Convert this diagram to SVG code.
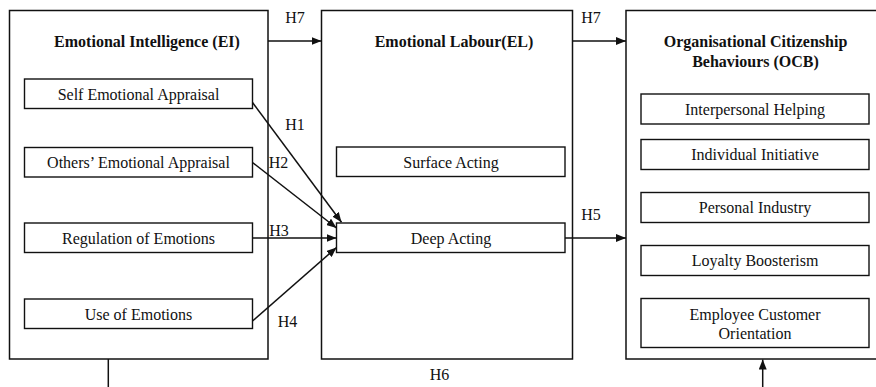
<svg xmlns="http://www.w3.org/2000/svg" width="876" height="387" viewBox="0 0 876 387">
<style>
  .box { fill: #fff; stroke: #111; stroke-width: 1.5; }
  .item { fill: #fff; stroke: #111; stroke-width: 1.4; }
  .t { font-family: "Liberation Serif", "Times New Roman", serif; font-size: 16px; fill: #111; text-anchor: middle; }
  .b { font-weight: bold; }
  .c { stroke: #111; stroke-width: 1.5; fill: none; }
  .a { marker-end: url(#ah); }
</style>
<defs>
  <marker id="ah" markerUnits="userSpaceOnUse" markerWidth="10" markerHeight="8" viewBox="0 0 10 8" refX="10" refY="4" orient="auto">
    <path d="M0,0 L10,4 L0,8 Z" fill="#111"/>
  </marker>
</defs>
<rect width="876" height="387" fill="#fff"/>

<g id="EI">
  <rect class="box" x="9.5" y="10.5" width="258.5" height="348.5"/>
  <text class="t b" x="147" y="47">Emotional Intelligence (EI)</text>
</g>
<g id="SEA">
  <rect class="item" x="24.5" y="79" width="228" height="29.5"/>
  <text class="t" x="138.5" y="99.5">Self Emotional Appraisal</text>
</g>
<g id="OEA">
  <rect class="item" x="24.5" y="147.5" width="228" height="29.5"/>
  <text class="t" x="138.5" y="168">Others’ Emotional Appraisal</text>
</g>
<g id="ROE">
  <rect class="item" x="24.5" y="223" width="228" height="29.5"/>
  <text class="t" x="138.5" y="243.5">Regulation of Emotions</text>
</g>
<g id="UOE">
  <rect class="item" x="24.5" y="299" width="228" height="29.5"/>
  <text class="t" x="138.5" y="319.5">Use of Emotions</text>
</g>

<g id="EL">
  <rect class="box" x="321.5" y="10.5" width="251" height="348.5"/>
  <text class="t b" x="454" y="47">Emotional Labour(EL)</text>
</g>
<g id="SA">
  <rect class="item" x="336.5" y="147" width="228.5" height="29.5"/>
  <text class="t" x="451" y="167.5">Surface Acting</text>
</g>
<g id="DA">
  <rect class="item" x="336.5" y="223" width="228.5" height="29.5"/>
  <text class="t" x="451" y="243.5">Deep Acting</text>
</g>

<g id="OCB">
  <rect class="box" x="626" y="10.5" width="260" height="348.5"/>
  <text class="t b" x="755.5" y="47">Organisational Citizenship</text>
  <text class="t b" x="755.5" y="66.5">Behaviours (OCB)</text>
</g>
<g id="IH">
  <rect class="item" x="641" y="94" width="228" height="30"/>
  <text class="t" x="755" y="114.5">Interpersonal Helping</text>
</g>
<g id="II">
  <rect class="item" x="641" y="139.5" width="228" height="30"/>
  <text class="t" x="755" y="160">Individual Initiative</text>
</g>
<g id="PI">
  <rect class="item" x="641" y="192.5" width="228" height="30"/>
  <text class="t" x="755" y="213">Personal Industry</text>
</g>
<g id="LB">
  <rect class="item" x="641" y="245.5" width="228" height="30"/>
  <text class="t" x="755" y="266">Loyalty Boosterism</text>
</g>
<g id="ECO">
  <rect class="item" x="641" y="298.5" width="228" height="49"/>
  <text class="t" x="755" y="319.5">Employee Customer</text>
  <text class="t" x="755" y="338.5">Orientation</text>
</g>

<g id="connectors">
  <line class="c a" x1="268" y1="41" x2="321.5" y2="41"/>
  <line class="c a" x1="572.5" y1="41" x2="626" y2="41"/>
  <line class="c a" x1="252.5" y1="102.5" x2="341.5" y2="222.3"/>
  <line class="c a" x1="252.5" y1="162.5" x2="336.5" y2="228"/>
  <line class="c a" x1="252.5" y1="238" x2="336.5" y2="238"/>
  <line class="c a" x1="252.5" y1="321" x2="336.5" y2="247.5"/>
  <line class="c a" x1="565" y1="238" x2="626" y2="238"/>
  <line class="c" x1="108.3" y1="359" x2="108.3" y2="390"/>
  <line class="c a" x1="762.7" y1="390" x2="762.7" y2="359.5"/>
  <text class="t" x="295" y="23">H7</text>
  <text class="t" x="591" y="23">H7</text>
  <text class="t" x="295" y="130">H1</text>
  <text class="t" x="278.5" y="168">H2</text>
  <text class="t" x="279" y="235.5">H3</text>
  <text class="t" x="287.5" y="326.5">H4</text>
  <text class="t" x="591" y="220">H5</text>
  <text class="t" x="439.5" y="380">H6</text>
</g>
</svg>
